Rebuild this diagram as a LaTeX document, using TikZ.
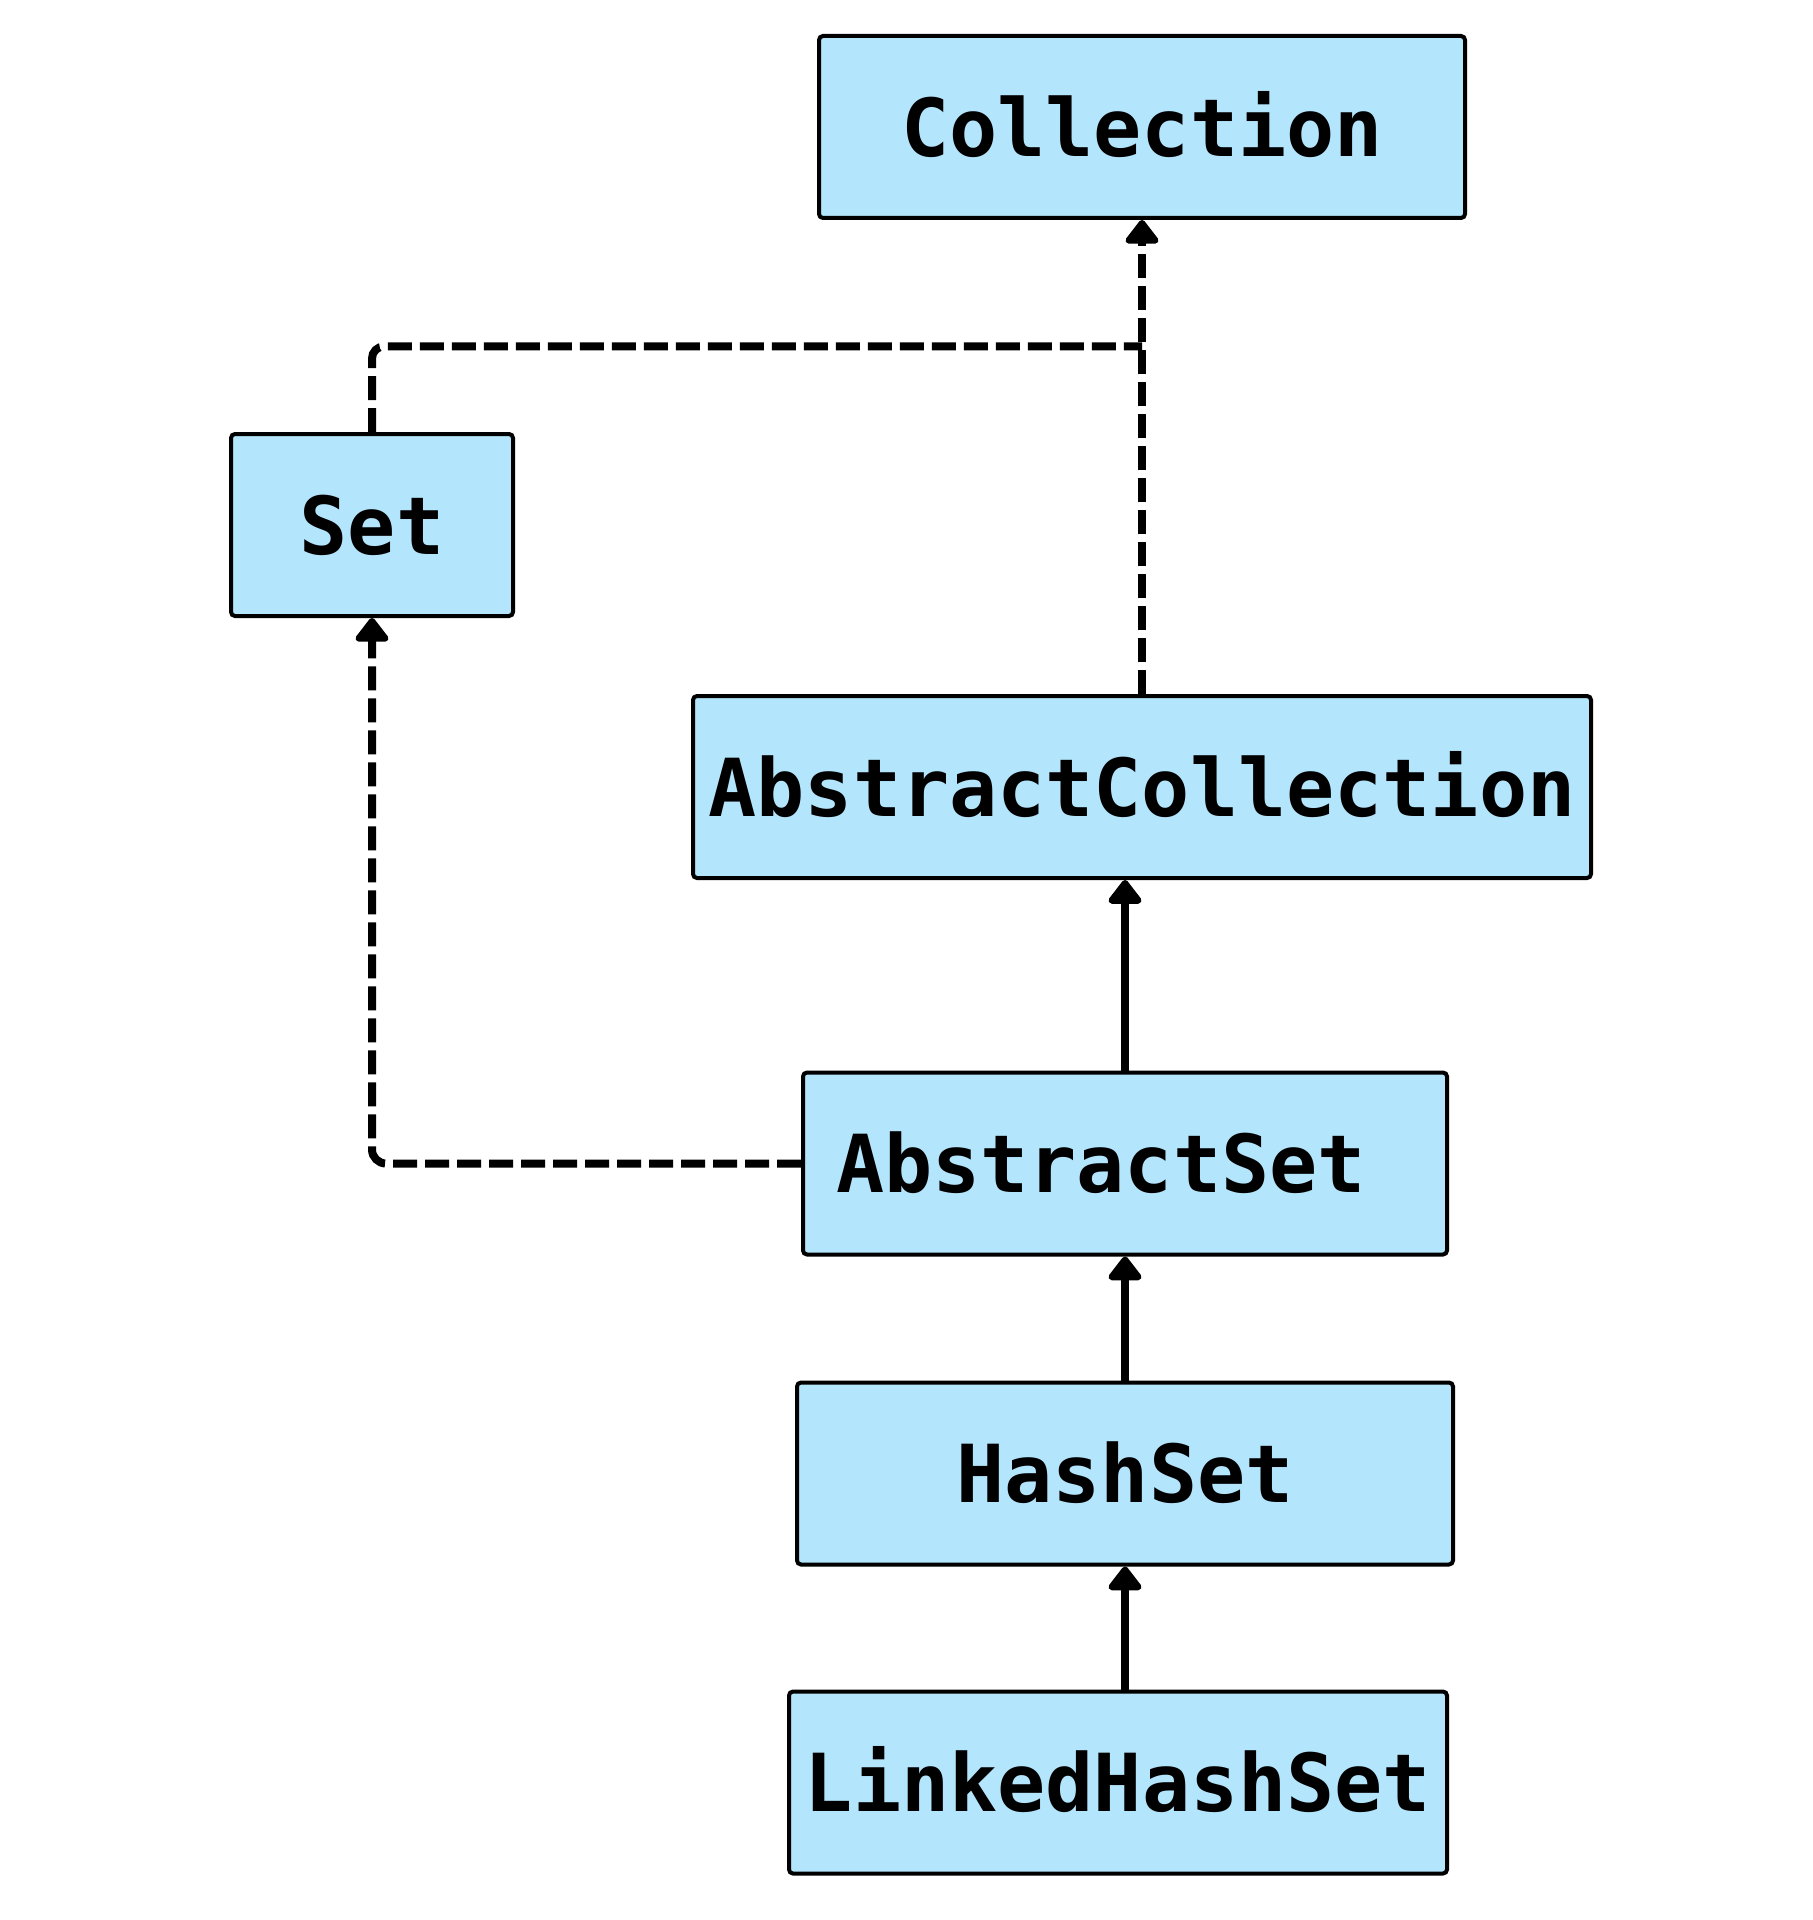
\documentclass[tikz,border=0pt]{standalone}
\usepackage{fontspec}
\setmonofont{DejaVu Sans Mono}
\usetikzlibrary{arrows.meta}
\definecolor{boxfill}{HTML}{B3E5FC}
\begin{document}
\begin{tikzpicture}[x=0.5pt,y=-0.5pt,
  cls/.style={draw=black, line width=2pt, fill=boxfill, rounded corners=2pt,
    minimum height=91pt, inner sep=0pt,
    font=\fontsize{40}{48}\selectfont\ttfamily\bfseries,
    text height=29.2pt, text depth=0pt, anchor=center},
  tip/.style={-{Triangle[width=19pt,length=13pt,round]}},
  link/.style={line width=4pt, tip},
  dashline/.style={line width=4pt, dash pattern=on 12pt off 4pt},
  iface/.style={dashline, tip}
]
\useasboundingbox (0,0) rectangle (1812,1920);

\node[cls, minimum width=323pt] (coll)  at (1142,127)    {Collection};
\node[cls, minimum width=141pt] (set)   at (372,525)     {Set};
\node[cls, minimum width=449pt] (acoll) at (1142,787)    {AbstractCollection};
\node[cls, minimum width=322pt] (aset)  at (1125,1163.5) {AbstractSet\phantom{t}};
\node[cls, minimum width=328pt] (hset)  at (1125,1473.5) {HashSet};
\node[cls, minimum width=329pt] (lhset) at (1118,1782.5) {LinkedHashSet};

\coordinate (j) at (1142,346.5);

% interface realisations (dashed)
\draw[iface] (acoll.north) -- (coll.south);
\draw[dashline, rounded corners=6pt] (set.north) |- (j);
\draw[iface, rounded corners=7pt] (aset.west) -| (set.south);

% inheritance (solid)
\draw[link] (aset.north) -- (acoll.south -| aset.north);
\draw[link] (hset.north) -- (aset.south);
\draw[link] (lhset.north -| hset.north) -- (hset.south);
\end{tikzpicture}
\end{document}
